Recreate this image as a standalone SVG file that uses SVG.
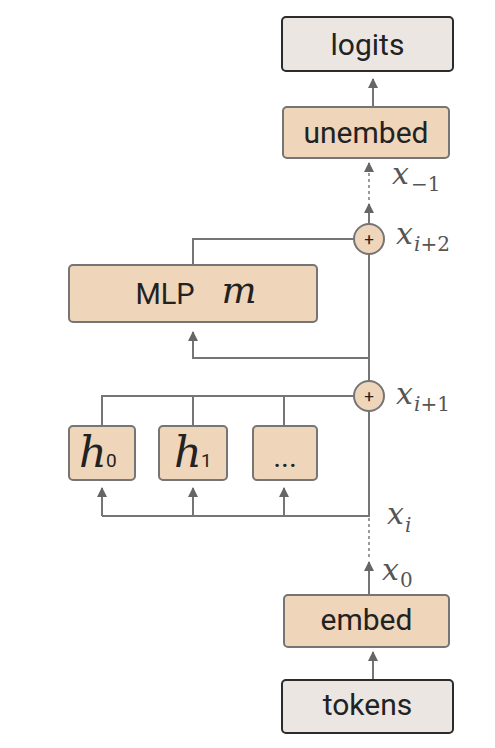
<svg xmlns="http://www.w3.org/2000/svg" width="495" height="748" viewBox="0 0 495 748">
<style>
.box{fill:#efd5b9;stroke:#757575;stroke-width:2}
.io{fill:#ebe6e2;stroke:#2b2b2b;stroke-width:2}
.t{font-family:Roboto,"Liberation Sans",sans-serif;font-size:30px;fill:#222;text-anchor:middle}
.m{font-family:"DejaVu Serif","Liberation Serif",serif;font-style:italic;fill:#222}
.lbl{font-family:"DejaVu Serif","Liberation Serif",serif;font-style:italic;fill:#555;font-size:30px}
.sub{font-family:"DejaVu Serif","Liberation Serif",serif;fill:#555;font-size:20px}
.ln{fill:none;stroke:#757575;stroke-width:2}
.dash{fill:none;stroke:#9a9a9a;stroke-width:2;stroke-dasharray:3,3}
.plus{fill:#efd5b9;stroke:#757575;stroke-width:2}
.pt{font-family:Roboto,sans-serif;font-size:17px;fill:#222;text-anchor:middle}
.hs{font-family:Roboto,sans-serif;font-size:19px;fill:#222}
</style>
<defs>
<marker id="ah" viewBox="0 0 10 10" refX="9" refY="5" markerWidth="5" markerHeight="5" orient="auto">
<path d="M0,0 L10,5 L0,10 Z" fill="#666"/>
</marker>
</defs>
<g id="connectors">
<line class="ln" x1="373" y1="680" x2="373" y2="652" marker-end="url(#ah)"/>
<line class="ln" x1="369" y1="595" x2="369" y2="562" marker-end="url(#ah)"/>
<line class="dash" x1="369" y1="557" x2="369" y2="518"/>
<polyline class="ln" points="369,411 369,516 102,516"/>
<line class="ln" x1="102" y1="516" x2="102" y2="488" marker-end="url(#ah)"/>
<line class="ln" x1="193" y1="516" x2="193" y2="488" marker-end="url(#ah)"/>
<line class="ln" x1="284" y1="516" x2="284" y2="488" marker-end="url(#ah)"/>
<polyline class="ln" points="102,426 102,396 354,396"/>
<line class="ln" x1="193" y1="396" x2="193" y2="426"/>
<line class="ln" x1="284" y1="396" x2="284" y2="426"/>
<line class="ln" x1="369" y1="381" x2="369" y2="254"/>
<polyline class="ln" points="369,358 193,358 193,332" marker-end="url(#ah)"/>
<polyline class="ln" points="193,265 193,239 354,239"/>
<line class="ln" x1="369" y1="224" x2="369" y2="204" marker-end="url(#ah)"/>
<line class="dash" x1="369" y1="200" x2="369" y2="166"/>
<line class="ln" x1="369" y1="170" x2="369" y2="163" marker-end="url(#ah)"/>
<line class="ln" x1="373" y1="107" x2="373" y2="79" marker-end="url(#ah)"/>
</g>
<g id="logits"><rect class="io" x="282" y="17" width="171" height="54" rx="4"/><text class="t" x="367.5" y="55">logits</text></g>
<g id="unembed"><rect class="box" x="283" y="107" width="166" height="51" rx="4"/><text class="t" x="366" y="143">unembed</text></g>
<g id="add2"><circle class="plus" cx="369" cy="239" r="15"/><text class="pt" x="369" y="245">+</text></g>
<g id="mlp"><rect class="box" x="69" y="265" width="248" height="57" rx="4"/><text x="165" y="304" font-family="Roboto,'Liberation Sans',sans-serif" font-size="29" fill="#222" text-anchor="middle">MLP</text><text class="m" x="239" y="303" font-size="37" text-anchor="middle">m</text></g>
<g id="add1"><circle class="plus" cx="369" cy="396" r="15"/><text class="pt" x="369" y="402">+</text></g>
<g id="h0"><rect class="box" x="69" y="426" width="66" height="54" rx="4"/><text class="m" x="79" y="467" font-size="43">h</text><text class="hs" x="106" y="467">0</text></g>
<g id="h1"><rect class="box" x="159" y="426" width="68" height="54" rx="4"/><text class="m" x="174" y="467" font-size="43">h</text><text class="hs" x="201" y="467">1</text></g>
<g id="hdots"><rect class="box" x="253" y="426" width="64" height="54" rx="4"/><text class="t" x="285" y="467" font-size="26">...</text></g>
<g id="embed"><rect class="box" x="284" y="595" width="165" height="52" rx="4"/><text class="t" x="366.5" y="630">embed</text></g>
<g id="tokens"><rect class="io" x="282" y="680" width="171" height="53" rx="4"/><text class="t" x="367.5" y="715">tokens</text></g>
<g id="labels">
<text class="lbl" x="392" y="184">x</text><text class="sub" x="411" y="191">−1</text>
<text class="lbl" x="396" y="244">x</text><text class="sub" x="414" y="251"><tspan font-style="italic">i</tspan>+2</text>
<text class="lbl" x="396" y="404">x</text><text class="sub" x="414" y="411"><tspan font-style="italic">i</tspan>+1</text>
<text class="lbl" x="387" y="524">x</text><text class="sub" x="405" y="532" font-style="italic">i</text>
<text class="lbl" x="382" y="580">x</text><text class="sub" x="400" y="587">0</text>
</g>
</svg>
